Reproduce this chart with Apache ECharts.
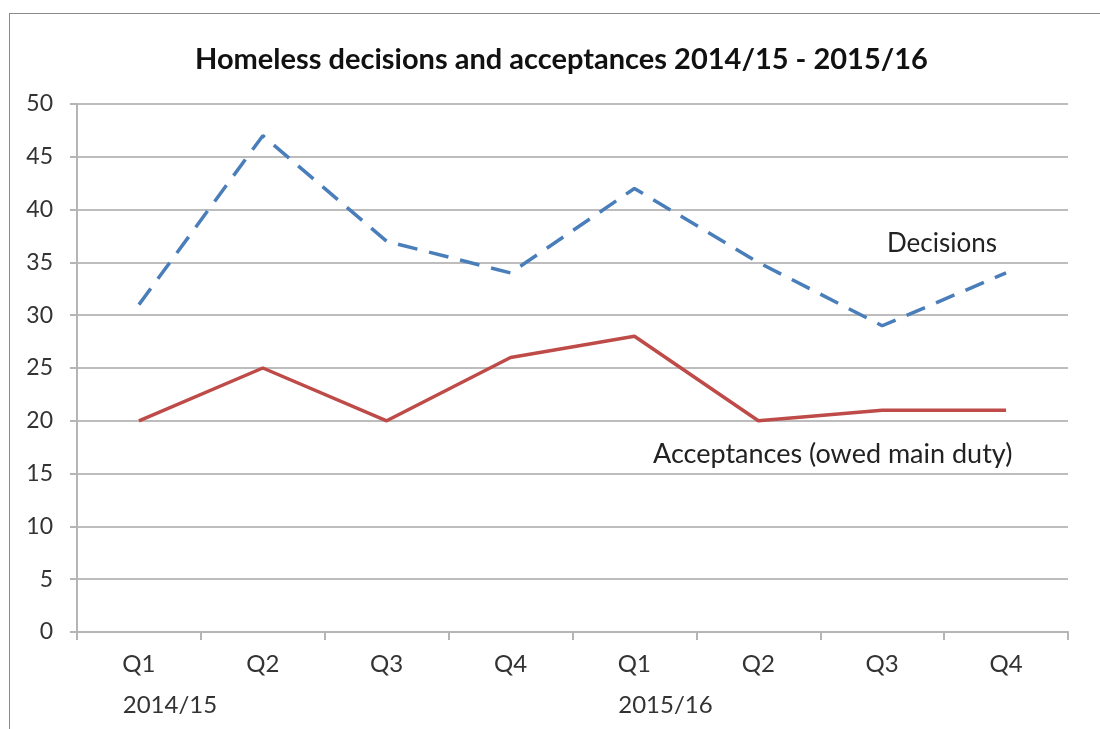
<!DOCTYPE html>
<html>
<head>
<meta charset="utf-8">
<script src="https://cdn.jsdelivr.net/npm/echarts@6/dist/echarts.min.js"></script>
<style>
html,body{margin:0;padding:0;background:#fff;}
#frame{position:absolute;left:9px;top:13px;width:1200px;height:800px;border:1.5px solid #8a8a8a;box-sizing:border-box;}
#chart{position:absolute;left:0;top:0;width:1100px;height:729px;}
</style>
</head>
<body>
<div id="frame"></div>
<div id="chart"></div>
<script>
const categories = ['Q1', 'Q2', 'Q3', 'Q4', 'Q1', 'Q2', 'Q3', 'Q4'];
const yearLabels = ['2014/15', '', '', '', '2015/16', '', '', ''];
const decisions = [31, 47, 37, 34, 42, 35, 29, 34];
const acceptances = [20, 25, 20, 26, 28, 20, 21, 21];
const yTicks = { min: 0, max: 50, interval: 5 };

const FONT = 'Lato, "Open Sans", sans-serif';
const chart = echarts.init(document.getElementById('chart'), null, { renderer: 'canvas' });
chart.setOption({
  backgroundColor: 'transparent',
  animation: false,
  title: {
    text: 'Homeless decisions and acceptances 2014/15 - 2015/16',
    left: 190,
    top: 40,
    textStyle: { fontFamily: FONT, fontWeight: 'bold', fontSize: 29, color: '#111' }
  },
  grid: { left: 77, right: 32, top: 104, bottom: 97, containLabel: false },
  xAxis: [{
    type: 'category',
    data: categories,
    boundaryGap: true,
    axisLine: { show: true, lineStyle: { color: '#b5b5b5', width: 2 } },
    axisTick: { show: true, length: 8, alignWithLabel: false, lineStyle: { color: '#b5b5b5', width: 2 } },
    axisLabel: { margin: 20, fontFamily: FONT, fontSize: 24, color: '#333' },
    splitLine: { show: false }
  }, {
    type: 'category',
    data: yearLabels,
    position: 'bottom',
    offset: 41,
    boundaryGap: true,
    axisLine: { show: false },
    axisTick: { show: false },
    axisLabel: {
      margin: 20, interval: 0,
      formatter: function (v) { return v ? '{y|' + v + '}' : ''; },
      rich: { y: { fontFamily: FONT, fontSize: 24, color: '#333', padding: [0, 0, 0, 62] } }
    },
    splitLine: { show: false }
  }],
  yAxis: {
    type: 'value',
    min: yTicks.min, max: yTicks.max, interval: yTicks.interval,
    axisLine: { show: true, lineStyle: { color: '#b5b5b5', width: 2 } },
    axisTick: { show: true, length: 7, lineStyle: { color: '#b5b5b5', width: 2 } },
    axisLabel: { margin: 24, fontFamily: FONT, fontSize: 23, color: '#333' },
    splitLine: { show: true, lineStyle: { color: '#bdbdbd', width: 2 } }
  },
  series: [{
    name: 'Decisions',
    type: 'line',
    xAxisIndex: 0,
    data: decisions,
    symbol: 'none',
    lineStyle: { color: '#4a7ebb', width: 3.5, type: [20, 12] },
    z: 3
  }, {
    name: 'Acceptances (owed main duty)',
    type: 'line',
    xAxisIndex: 0,
    data: acceptances,
    symbol: 'none',
    lineStyle: { color: '#be4b48', width: 3.5 },
    z: 3
  }],
  graphic: [{
    type: 'text', left: 887, top: 231,
    style: { text: 'Decisions', font: '26px ' + FONT, fill: '#222' }
  }, {
    type: 'text', left: 653, top: 441,
    style: { text: 'Acceptances (owed main duty)', font: '27px ' + FONT, fill: '#222' }
  }]
});
</script>
</body>
</html>
